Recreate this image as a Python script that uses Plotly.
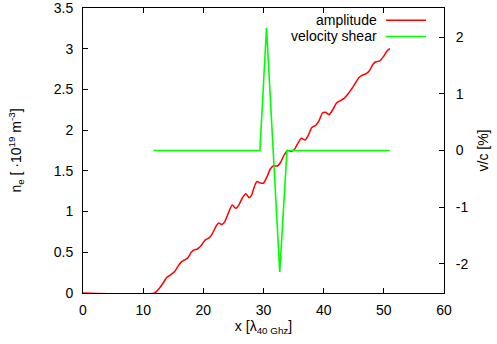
import plotly.graph_objects as go

# ---- data ----
amp_x = [0, 11.9, 12.6, 13.3, 13.9, 14.5, 15.2, 15.8, 16.4, 17.0, 17.4, 18.0, 18.5, 19.0,
         19.6, 20.3, 21.0, 21.5, 22.2, 22.6, 23.1, 23.6, 24.2, 24.8, 25.4, 25.9, 26.5,
         27.1, 27.6, 28.0, 28.5, 28.9, 29.5, 30.0, 30.6, 31.1, 31.6, 32.3, 32.8, 33.4,
         34.0, 34.7, 35.2, 35.8, 36.3, 36.9, 37.4, 38.0, 38.7, 39.2, 39.8, 40.3, 40.9,
         41.5, 42.1, 42.7, 43.4, 44.0, 44.6, 45.3, 45.8, 46.3, 47.0, 47.6, 48.2, 48.7,
         49.3, 49.9, 50.5, 51.0]
amp_y = [0, 0, 0.05, 0.12, 0.19, 0.22, 0.26, 0.33, 0.385, 0.41, 0.43, 0.50, 0.53, 0.54,
         0.58, 0.65, 0.68, 0.73, 0.83, 0.86, 0.84, 0.88, 0.99, 1.08, 1.04, 1.08, 1.17,
         1.22, 1.17, 1.20, 1.31, 1.37, 1.35, 1.35, 1.43, 1.52, 1.56, 1.56, 1.60, 1.69,
         1.75, 1.74, 1.77, 1.85, 1.90, 1.88, 1.93, 2.03, 2.06, 2.11, 2.21, 2.22, 2.19,
         2.25, 2.33, 2.36, 2.39, 2.44, 2.50, 2.58, 2.64, 2.67, 2.69, 2.73, 2.81, 2.84,
         2.85, 2.90, 2.97, 3.00]

shear_x = [11.7, 29.4, 30.5, 32.7, 33.9, 51.0]
shear_y = [0, 0, 2.17, -2.15, 0, 0]

x_ticks = [0, 10, 20, 30, 40, 50, 60]
y_ticks = [0, 0.5, 1, 1.5, 2, 2.5, 3, 3.5]
y_tick_text = ["0", "0.5", "1", "1.5", "2", "2.5", "3", "3.5"]
y2_ticks = [-2, -1, 0, 1, 2]
y2_tick_text = ["-2", "-1", "0", "1", "2"]

series_names = ["amplitude", "velocity shear"]
series_colors = ["#ff0000", "#00ff00"]

FONT = "Liberation Sans, Arial, sans-serif"
FS = 14

fig = go.Figure()
fig.add_trace(go.Scatter(x=amp_x, y=amp_y, mode="lines", name=series_names[0],
                         line=dict(color=series_colors[0], width=1.5, shape="spline", smoothing=0.6),
                         yaxis="y"))
fig.add_trace(go.Scatter(x=shear_x, y=shear_y, mode="lines", name=series_names[1],
                         line=dict(color=series_colors[1], width=1.6),
                         yaxis="y2"))

axis_common = dict(showline=True, linecolor="black", linewidth=1, ticks="inside",
                   ticklen=5, tickcolor="black", showgrid=False, zeroline=False,
                   automargin=False, ticklabeloverflow="allow",
                   tickfont=dict(family=FONT, size=FS, color="black"))

fig.update_layout(
    width=497, height=344,
    margin=dict(l=83, r=53, t=8, b=51),
    plot_bgcolor="white", paper_bgcolor="white",
    showlegend=False,
    font=dict(family=FONT, size=FS, color="black"),
    xaxis=dict(range=[0, 60], tickvals=x_ticks, mirror="ticks",
               title=dict(text="x [λ<sub>40 Ghz</sub>]", standoff=4,
                          font=dict(family=FONT, size=FS)),
               ticklabelstandoff=4, **axis_common),
    yaxis=dict(range=[0, 3.5], tickvals=y_ticks, ticktext=y_tick_text, mirror=True,
               title=dict(text="n<sub>e</sub> [ ·10<sup>19</sup> m<sup>-3</sup>]", standoff=28,
                          font=dict(family=FONT, size=FS)),
               ticklabelstandoff=6, **axis_common),
    yaxis2=dict(range=[-2.52, 2.52], tickvals=y2_ticks, ticktext=y2_tick_text,
                overlaying="y", side="right",
                title=dict(text="v/c [%]", standoff=10, font=dict(family=FONT, size=FS)),
                ticklabelstandoff=8, **axis_common),
)

# gnuplot-style legend: text right-aligned, sample line to the right
legend_y = [0.957, 0.900]
for name, color, ly in zip(series_names, series_colors, legend_y):
    fig.add_annotation(x=0.82, y=ly, xref="paper", yref="paper", text=name,
                       showarrow=False, xanchor="right", yanchor="middle",
                       font=dict(family=FONT, size=FS, color="black"))
    fig.add_shape(type="line", xref="paper", yref="paper", x0=0.839, x1=0.95,
                  y0=ly, y1=ly, line=dict(color=color, width=1.5))

fig.write_html("out.html", config={"displayModeBar": False},
               post_script="document.body.style.margin='0';")
